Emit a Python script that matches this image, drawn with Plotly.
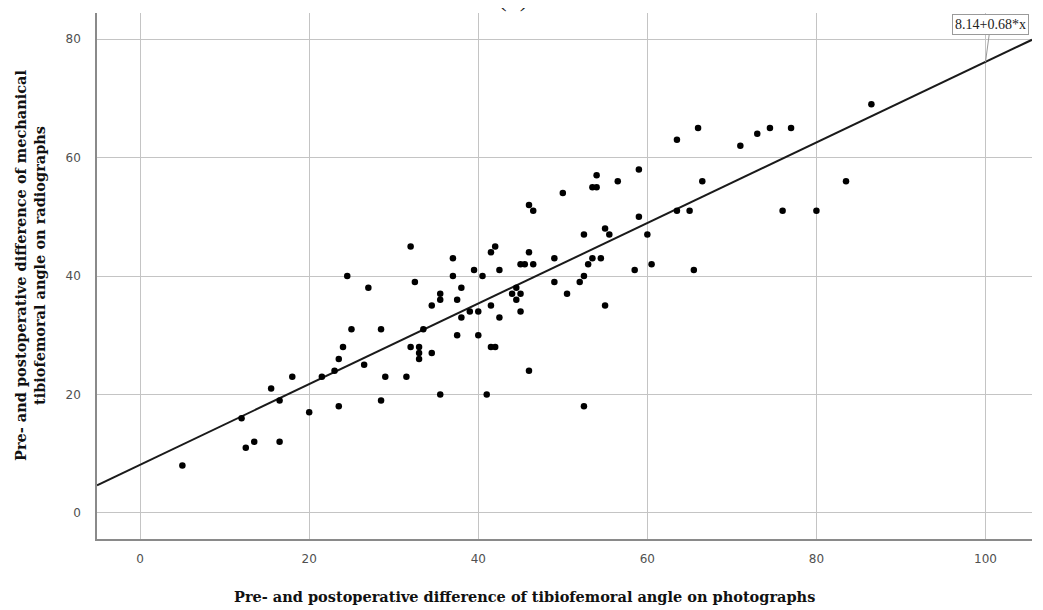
import plotly.graph_objects as go

# Data
photo_diff = [5, 12, 12.5, 13.5, 15.5, 16.5, 16.5, 18, 20, 21.5, 23, 23.5, 24, 25, 23.5, 26.5,
              28.5, 29, 28.5, 24.5, 27, 31.5, 32, 32, 32.5, 33, 33, 33, 33.5, 34.5, 34.5,
              35.5, 35.5, 35.5, 37, 37, 37.5, 37.5, 38, 38, 39, 39.5, 40, 40, 40.5, 41,
              41.5, 42, 41.5, 41.5, 42, 42.5, 42.5, 44, 44.5, 44.5, 45, 45, 45, 45.5, 46,
              46.5, 46, 46.5, 46, 49, 49, 50, 50.5, 52, 52.5, 53, 53.5, 54.5, 52.5, 55,
              55.5, 55, 53.5, 54, 54, 56.5, 59, 59, 58.5, 60, 60.5, 63.5, 66, 63.5, 65,
              66.5, 65.5, 71, 73, 74.5, 52.5, 77, 86.5, 76, 80, 83.5]
radio_diff = [8, 16, 11, 12, 21, 19, 12, 23, 17, 23, 24, 26, 28, 31, 18, 25,
              31, 23, 19, 40, 38, 23, 28, 45, 39, 28, 27, 26, 31, 35, 27,
              37, 36, 20, 43, 40, 36, 30, 38, 33, 34, 41, 34, 30, 40, 20,
              44, 45, 35, 28, 28, 41, 33, 37, 38, 36, 37, 34, 42, 42, 44,
              42, 52, 51, 24, 43, 39, 54, 37, 39, 40, 42, 43, 43, 47, 48,
              47, 35, 55, 55, 57, 56, 58, 50, 41, 47, 42, 63, 65, 51, 51,
              56, 41, 62, 64, 65, 18, 65, 69, 51, 51, 56]

intercept = 8.14
slope = 0.68
x_range = [-5.1, 105.5]
y_range = [-4.4, 84.4]
tick_vals = [0, 20, 40, 60, 80, 100]
y_tick_vals = [0, 20, 40, 60, 80]

fit_x = x_range
fit_y = [intercept + slope * v for v in fit_x]

fig = go.Figure()
fig.add_trace(go.Scatter(x=fit_x, y=fit_y, mode="lines",
                         line=dict(color="#1a1a1a", width=2),
                         hoverinfo="skip", showlegend=False))
fig.add_trace(go.Scatter(x=photo_diff, y=radio_diff, mode="markers",
                         marker=dict(color="black", size=6.5),
                         showlegend=False))

serif = "DejaVu Serif"
title_font = dict(family=serif, size=14.5, color="#111111")

fig.update_layout(
    width=1043, height=610,
    margin=dict(l=89, r=19, t=5, b=79),
    paper_bgcolor="white", plot_bgcolor="white",
    xaxis=dict(range=x_range, tickvals=tick_vals, showgrid=True,
               gridcolor="#c4c4c4", gridwidth=1, zeroline=False,
               showline=True, linecolor="#8a8a8a", linewidth=1.5,
               ticks="", ticklabelstandoff=8,
               tickfont=dict(family="DejaVu Sans", size=12, color="#505050")),
    yaxis=dict(range=y_range, tickvals=y_tick_vals, showgrid=True,
               gridcolor="#c4c4c4", gridwidth=1, zeroline=False,
               showline=True, linecolor="#8a8a8a", linewidth=1.5,
               ticks="", ticklabelstandoff=12,
               tickfont=dict(family="DejaVu Sans", size=12, color="#505050")),
    annotations=[
        dict(text="<b>Pre- and postoperative difference of tibiofemoral angle on photographs</b>",
             xref="paper", yref="paper", x=0.457, y=0, yanchor="middle",
             yshift=-57, showarrow=False, font=title_font),
        dict(text="<b>Pre- and postoperative difference of mechanical<br>tibiofemoral angle on radiographs</b>",
             xref="paper", yref="paper", x=0, y=0.5, xanchor="center", yanchor="middle",
             xshift=-67, yshift=10, textangle=-90, showarrow=False, font=title_font),
        dict(text="8.14+0.68*x", x=100, y=intercept + slope * 100,
             xref="x", yref="y", showarrow=True, arrowhead=0, arrowwidth=1,
             arrowcolor="#9a9a9a", ax=5, ay=-37,
             bordercolor="#9a9a9a", borderwidth=1, borderpad=2, bgcolor="white",
             font=dict(family="Liberation Serif", size=14, color="#222222")),
        dict(text="(b)", xref="paper", yref="paper", x=0.445, y=1, yanchor="bottom",
             yshift=-1, showarrow=False,
             font=dict(family="Liberation Serif", size=26, color="#222222")),
    ],
)

fig.write_html("out.html")
